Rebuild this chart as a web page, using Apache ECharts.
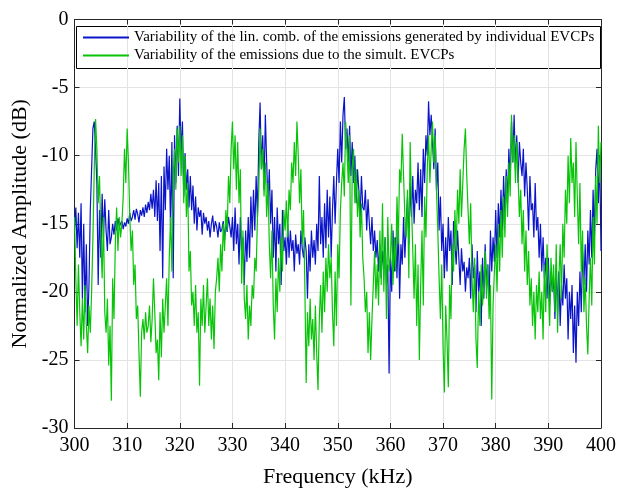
<!DOCTYPE html>
<html>
<head>
<meta charset="utf-8">
<script src="https://cdn.jsdelivr.net/npm/echarts@6/dist/echarts.min.js"></script>
<style>html,body{margin:0;padding:0;background:#fff}#c{width:619px;height:493px}</style>
</head>
<body>
<div id="c"></div>
<script>
// Frequency grid (kHz): 300 to 400 in 0.25 kHz steps
var fStart = 300, fStep = 0.25;
var xTicks = ['300','310','320','330','340','350','360','370','380','390','400'];
var yTicks = ['-30','-25','-20','-15','-10','-5','0'];
var seriesNames = [
  'Variability of the lin. comb. of the emissions generated by individual EVCPs',
  'Variability of the emissions due to the simult. EVCPs'
];
// Blue: linear combination of individual EVCP emissions (dB)
var blueVals = [
-15.5,-13.8,-16.8,-14.2, -17.5,-13.5,-20.5,-15.0, -21.5,-16.5,-22.5,-19.5, -14.0,-11.0,-8.0,-7.5,
-9.5,-12.0,-19.5,-14.0, -17.5,-12.8,-16.0,-13.2, -15.5,-17.0,-14.0,-16.5, -16.0,-15.0,-15.8,-14.8,
-15.5,-14.6,-15.2,-15.0, -14.8,-15.4,-14.9,-15.2, -14.6,-15.0,-14.2,-14.8, -14.5,-14.0,-14.7,-13.9,
-14.3,-14.9,-14.0,-14.4, -13.8,-14.5,-13.6,-14.2, -13.4,-14.0,-12.8,-13.9, -12.5,-14.5,-11.8,-14.8,
-12.0,-17.0,-11.5,-19.0, -10.8,-14.0,-9.5,-12.5, -10.0,-15.5,-9.0,-19.0, -8.5,-12.0,-7.8,-11.5,
-5.8,-10.0,-7.5,-13.0, -9.8,-12.5,-11.0,-13.8, -11.5,-14.0,-12.2,-15.0, -13.0,-15.5,-13.8,-14.5,
-14.0,-15.8,-14.2,-15.0, -14.5,-15.5,-14.8,-16.0, -15.0,-14.4,-15.6,-14.8, -15.2,-16.0,-14.9,-15.6,
-15.4,-14.8,-16.2,-15.0, -15.6,-14.5,-15.2,-16.0, -14.5,-17.0,-13.8,-16.5, -15.0,-18.0,-14.5,-17.2,
-16.0,-19.5,-15.5,-17.8, -14.5,-17.5,-13.0,-16.0, -12.5,-15.5,-11.5,-14.5, -9.0,-6.1,-11.0,-8.5,
-12.5,-7.0,-10.5,-13.5, -11.0,-15.0,-12.5,-17.5, -14.5,-18.5,-13.8,-16.5, -15.0,-19.5,-14.0,-17.0,
-16.0,-18.0,-15.0,-17.5, -15.5,-17.0,-16.2,-18.5, -15.8,-17.2,-16.5,-18.0, -15.5,-16.8,-17.5,-16.0,
-17.0,-20.5,-16.5,-18.5, -15.5,-17.5,-16.2,-18.0, -15.0,-17.0,-11.5,-16.5, -14.5,-17.5,-13.5,-16.8,
-12.5,-16.0,-13.0,-17.5, -14.0,-11.5,-15.0,-12.0, -9.5,-12.0,-7.5,-10.5, -7.0,-5.7,-9.5,-8.0,
-10.5,-7.8,-11.5,-9.0, -12.0,-10.0,-13.5,-11.0, -12.5,-14.5,-11.5,-13.8, -14.0,-12.5,-15.5,-13.2,
-15.0,-16.5,-14.5,-17.0, -15.5,-17.5,-16.2,-18.5, -16.5,-19.0,-17.0,-18.2, -16.0,-19.5,-18.0,-26.0,
-17.5,-20.0,-15.5,-18.5, -16.0,-19.0,-15.0,-20.5, -16.5,-18.0,-14.5,-17.5, -15.0,-13.0,-16.5,-12.0,
-14.5,-11.5,-15.0,-12.5, -13.5,-10.5,-14.0,-11.0, -14.5,-9.5,-12.0,-8.5, -10.0,-6.0,-8.5,-7.0,
-9.0,-11.0,-8.0,-12.5, -10.5,-15.5,-13.0,-17.0, -15.0,-19.0,-16.0,-18.5, -14.5,-17.0,-15.5,-19.5,
-14.8,-16.5,-18.0,-15.5, -17.5,-19.5,-16.8,-18.5, -17.8,-20.0,-18.2,-19.0, -17.5,-20.5,-16.5,-19.0,
-18.0,-21.5,-17.0,-20.0, -18.5,-22.5,-17.5,-20.5, -16.5,-19.5,-18.0,-21.0, -15.5,-18.5,-16.0,-17.8,
-14.0,-17.5,-13.5,-16.0, -12.5,-15.5,-11.5,-14.5, -11.0,-13.5,-9.5,-12.0, -7.5,-10.5,-7.0,-11.0,
-8.5,-12.0,-9.0,-10.5, -11.5,-9.5,-13.0,-10.5, -12.5,-15.5,-11.5,-14.0, -13.5,-16.0,-12.0,-15.5,
-14.5,-17.5,-15.0,-18.5, -16.0,-19.0,-17.5,-20.5, -17.5,-21.0,-18.5,-20.0, -19.0,-22.0,-18.0,-21.5,
-18.5,-22.5,-19.5,-21.0, -18.0,-20.5,-19.0,-23.5, -20.0,-22.0,-19.5,-24.5, -21.0,-25.2,-20.0,-22.5,
-18.5,-21.5,-17.0,-19.5, -16.5,-20.0,-15.5,-18.0, -14.0,-17.5,-12.5,-16.0, -11.0,-9.5,-13.5,-10.0,
-17.0
];
// Green: emissions due to simultaneous EVCPs (dB)
var greenVals = [
-14.5,-19.0,-22.5,-18.0, -21.5,-24.0,-20.5,-23.5, -19.5,-22.5,-24.5,-21.0, -23.0,-20.0,-16.0,-11.0,
-7.3,-9.5,-13.5,-11.5, -16.0,-19.0,-14.5,-21.5, -23.0,-20.5,-25.4,-22.5, -28.0,-19.0,-22.0,-16.5,
-13.8,-17.0,-14.5,-16.0, -15.0,-13.0,-9.5,-12.0, -8.0,-10.5,-14.5,-17.0, -15.5,-19.5,-18.0,-22.0,
-21.0,-24.5,-27.7,-23.0, -22.0,-23.5,-21.5,-23.0, -22.5,-21.0,-23.7,-22.0, -19.0,-21.5,-24.5,-23.5,
-26.5,-21.5,-24.8,-20.5, -23.0,-21.0,-19.0,-22.5, -17.5,-14.5,-18.5,-11.5, -9.5,-12.5,-8.0,-10.5,
-7.8,-11.5,-8.5,-13.5, -10.0,-14.5,-12.0,-18.5, -17.0,-21.0,-20.0,-22.5, -19.5,-23.0,-21.5,-26.9,
-20.5,-22.5,-19.5,-23.0, -21.0,-19.0,-22.5,-20.5, -23.5,-21.0,-24.2,-20.0, -19.0,-17.5,-20.0,-16.5,
-18.5,-15.0,-17.0,-14.0, -15.5,-11.5,-13.5,-9.5, -7.5,-11.0,-8.5,-12.5, -9.0,-13.5,-11.0,-19.4,
-15.5,-20.5,-22.0,-19.5, -23.5,-21.0,-22.5,-19.5, -20.5,-17.5,-18.5,-14.5, -12.5,-8.0,-11.0,-9.5,
-13.0,-10.5,-14.5,-12.0, -16.5,-19.0,-15.5,-21.0, -23.5,-19.0,-21.5,-17.5, -20.0,-16.0,-18.5,-14.0,
-15.5,-13.3,-16.0,-12.5, -14.0,-10.5,-12.0,-9.0, -11.5,-7.5,-10.0,-13.5, -11.0,-16.5,-14.0,-19.5,
-26.7,-21.5,-24.0,-20.5, -23.5,-22.0,-25.0,-21.0, -24.5,-27.2,-22.0,-19.5, -23.0,-18.5,-21.5,-17.5,
-20.0,-16.5,-19.0,-17.5, -21.5,-24.0,-18.5,-22.5, -16.5,-19.0,-14.0,-12.0, -10.5,-13.0,-7.5,-9.5,
-12.0,-8.5,-21.0,-11.0, -9.5,-13.5,-11.0,-14.5, -12.5,-16.0,-13.5,-17.5, -19.0,-21.5,-20.0,-24.5,
-21.5,-25.0,-22.0,-19.5, -17.0,-20.5,-18.0,-21.0, -15.5,-19.5,-13.5,-20.0, -16.0,-22.0,-14.5,-18.5,
-17.5,-15.0,-19.5,-16.0, -18.5,-13.0,-16.5,-11.0, -12.0,-8.4,-11.5,-14.5, -16.0,-12.5,-19.0,-9.0,
-13.5,-17.0,-20.5,-16.5, -22.5,-18.0,-25.0,-19.5, -15.5,-21.0,-13.0,-16.0, -11.0,-8.5,-12.0,-9.5,
-7.5,-10.5,-8.5,-12.5, -15.5,-19.0,-22.0,-18.0, -24.0,-27.4,-21.0,-23.5, -27.0,-19.5,-22.0,-16.5,
-18.5,-14.0,-17.0,-12.5, -15.0,-11.0,-14.5,-12.0, -9.5,-8.0,-11.5,-14.0, -16.5,-13.5,-19.0,-21.5,
-17.5,-23.5,-25.6,-20.0, -22.5,-18.0,-21.0,-19.5, -17.0,-20.5,-18.0,-22.0, -19.5,-27.9,-21.0,-18.5,
-16.5,-20.0,-15.0,-18.5, -14.0,-17.5,-13.0,-16.0, -11.5,-14.5,-10.5,-13.0, -7.0,-10.5,-8.5,-12.0,
-9.0,-11.5,-14.5,-12.5, -16.5,-14.0,-18.5,-15.5, -19.5,-17.0,-21.0,-19.0, -22.5,-20.0,-23.5,-19.5,
-21.5,-18.5,-22.0,-20.0, -23.5,-18.0,-21.5,-16.5, -19.5,-22.5,-17.5,-20.0, -18.0,-21.5,-16.5,-23.0,
-19.0,-16.5,-20.5,-15.0, -17.5,-12.5,-15.0,-10.0, -13.5,-8.7,-12.0,-10.5, -14.5,-9.0,-13.0,-16.5,
-12.0,-18.5,-15.5,-21.5, -19.0,-22.5,-24.6,-20.5, -17.5,-21.0,-14.5,-18.0, -11.5,-15.0,-7.8,-12.0,
-9.0
];

function pairs(vals){
  var out = [];
  for (var i = 0; i < vals.length; i++) out.push([fStart + i * fStep, vals[i]]);
  return out;
}

var FONT = '"Liberation Serif", "Times New Roman", serif';
var chart = echarts.init(document.getElementById('c'), null, {renderer: 'canvas'});
var axisCommon = {
  type: 'value',
  axisLine: {show: true, onZero: false, lineStyle: {color: '#262626', width: 1}},
  axisTick: {show: true, inside: true, length: 5, lineStyle: {color: '#262626'}},
  splitLine: {show: false},
  axisLabel: {show: false}
};
chart.setOption({
  animation: false,
  backgroundColor: '#ffffff',
  grid: {left: 74.5, right: 17, top: 19.5, bottom: 60, containLabel: false},
  legend: {
    orient: 'vertical',
    left: 82, top: 30,
    itemWidth: 46, itemHeight: 14, itemGap: 3,
    padding: 0,
    itemStyle: {opacity: 0},
    textStyle: {fontFamily: FONT, fontSize: 15, color: '#000', padding: [0, 0, 0, 0]},
    data: seriesNames
  },
  graphic: [{
    type: 'rect', left: 76, top: 26, z: 0,
    shape: {width: 524, height: 42},
    style: {fill: '#fff', stroke: '#000', lineWidth: 1}
  }],
  xAxis: [{
    type: 'value', min: 300, max: 400, interval: 10,
    axisLine: {show: true, onZero: false, lineStyle: {color: '#262626', width: 1}},
    axisTick: {show: true, inside: true, length: 5, lineStyle: {color: '#262626'}},
    splitLine: {show: true, lineStyle: {color: '#e3e3e3', width: 1}},
    axisLabel: {fontFamily: FONT, fontSize: 20, color: '#000', margin: 8,
      formatter: function(v){ return xTicks[Math.round((v - 300) / 10)]; }},
    name: 'Frequency (kHz)', nameLocation: 'middle', nameGap: 38,
    nameTextStyle: {fontFamily: FONT, fontSize: 22, color: '#000'}
  }, Object.assign({}, axisCommon, {position: 'top', min: 300, max: 400, interval: 10})],
  yAxis: [{
    type: 'value', min: -30, max: 0, interval: 5,
    axisLine: {show: true, onZero: false, lineStyle: {color: '#262626', width: 1}},
    axisTick: {show: true, inside: true, length: 5, lineStyle: {color: '#262626'}},
    splitLine: {show: true, lineStyle: {color: '#e3e3e3', width: 1}},
    axisLabel: {fontFamily: FONT, fontSize: 20, color: '#000', margin: 6,
      formatter: function(v){ return yTicks[Math.round((v + 30) / 5)]; }},
    name: 'Normalized Amplitude (dB)', nameLocation: 'middle', nameGap: 42,
    nameTextStyle: {fontFamily: FONT, fontSize: 22, color: '#000'}
  }, Object.assign({}, axisCommon, {position: 'right', min: -30, max: 0, interval: 5})],
  series: [{
    name: seriesNames[0], type: 'line', data: pairs(blueVals),
    symbol: 'none', sampling: null, z: 2,
    lineStyle: {color: '#0a14c8', width: 1.2}, itemStyle: {color: '#0a14c8'}
  }, {
    name: seriesNames[1], type: 'line', data: pairs(greenVals),
    symbol: 'none', sampling: null, z: 3,
    lineStyle: {color: '#08c408', width: 1.2}, itemStyle: {color: '#08c408'}
  }]
});
</script>
</body>
</html>
